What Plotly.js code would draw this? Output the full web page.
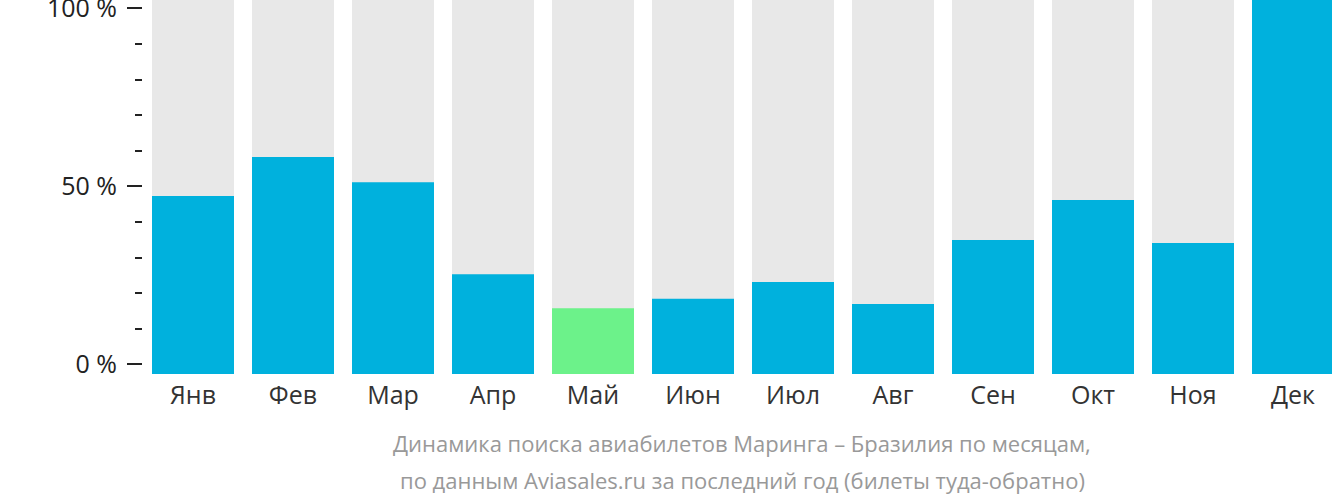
<!DOCTYPE html>
<html>
<head>
<meta charset="utf-8">
<script src="https://cdn.plot.ly/plotly-3.0.1.min.js"></script>
<style>
html,body{margin:0;padding:0;background:#fff;}
#chart{width:1332px;height:502px;}
</style>
</head>
<body>
<div id="chart"></div>
<script>
const months = ["Янв","Фев","Мар","Апр","Май","Июн","Июл","Авг","Сен","Окт","Ноя","Дек"];
const searchShare = [47.6, 58.0, 51.3, 26.7, 17.6, 20.1, 24.6, 18.7, 35.8, 46.5, 35.0, 100];
const fullScale = [100,100,100,100,100,100,100,100,100,100,100,100];
const lowestMonth = "Май";
const tickValues = [0, 50, 100];
const tickLabels = ["0 %", "50 %", "100 %"];
const titleLines = ["Динамика поиска авиабилетов Маринга – Бразилия по месяцам,",
                    "по данным Aviasales.ru за последний год (билеты туда-обратно)"];

const BLUE = "#00B1DD", GREEN = "#6CF28A", GREY = "#E8E8E8";

const traces = [
  {type:"bar", x:months, y:fullScale, marker:{color:GREY}, hoverinfo:"skip", showlegend:false},
  {type:"bar", x:months, y:searchShare,
   marker:{color:months.map(m => m === lowestMonth ? GREEN : BLUE)}, showlegend:false},
  {type:"scatter", x:[months[0]], y:[0], yaxis:"y2", mode:"markers",
   marker:{opacity:0}, hoverinfo:"skip", showlegend:false}
];

const layout = {
  width:1332, height:502,
  margin:{l:143, r:0, t:0, b:128},
  paper_bgcolor:"#fff", plot_bgcolor:"#fff",
  barmode:"overlay", bargap:0.18,
  font:{family:"Open Sans, sans-serif", color:"#333"},
  xaxis:{type:"category", range:[-0.5, 11.39], showgrid:false, zeroline:false,
         showline:false, ticks:"", tickfont:{size:25, color:"#333"}, ticklabelstandoff:4},
  yaxis:{range:[0,100], visible:false, fixedrange:true},
  yaxis2:{overlaying:"y", side:"left", range:[-2.72, 102.33], showgrid:false, zeroline:false,
          showline:false, tickmode:"array", tickvals:tickValues, ticktext:tickLabels,
          ticks:"outside", ticklen:15, tickwidth:2, tickcolor:"#222",
          ticklabeloverflow:"allow", ticklabelstandoff:5,
          tickfont:{size:25, color:"#222"},
          minor:{dtick:10, tick0:0, ticks:"outside", ticklen:7, tickwidth:2, tickcolor:"#222", showgrid:false}},
  annotations:[
    {text:titleLines[0], xref:"paper", yref:"paper", x:0.5038, y:-0.1845, xanchor:"center", yanchor:"middle",
     showarrow:false, font:{size:22, color:"#999"}},
    {text:titleLines[1], xref:"paper", yref:"paper", x:0.5038, y:-0.2834, xanchor:"center", yanchor:"middle",
     showarrow:false, font:{size:22, color:"#999"}}
  ]
};

Plotly.newPlot("chart", traces, layout, {displayModeBar:false, staticPlot:true});
</script>
</body>
</html>
